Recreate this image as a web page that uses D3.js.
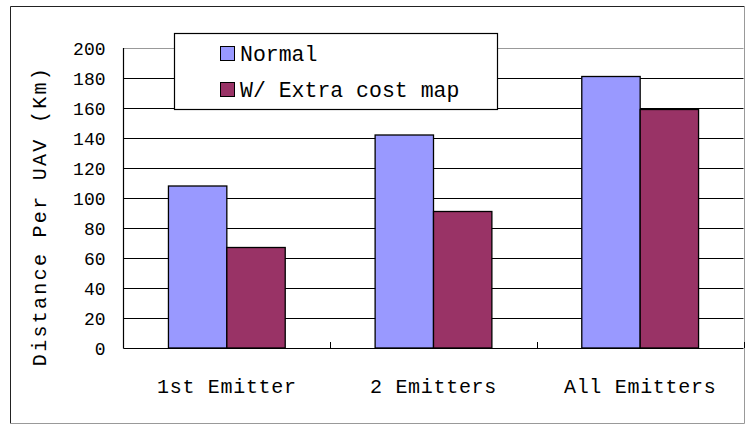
<!DOCTYPE html>
<html>
<head>
<meta charset="utf-8">
<script src="https://cdn.jsdelivr.net/npm/d3@7"></script>
<style>
  html, body { margin: 0; padding: 0; background: #ffffff; }
  svg { display: block; }
  text { font-family: "Liberation Mono", "DejaVu Sans Mono", monospace; fill: #000; }
</style>
</head>
<body>
<svg id="chart" width="745" height="424"></svg>
<script>
// Chart data
const categories = ["1st Emitter", "2 Emitters", "All Emitters"];
const seriesNames = ["Normal", "W/ Extra cost map"];
const normalValues = [108, 142, 181];
const extraCostValues = [67, 91, 159];
const yTicks = [0, 20, 40, 60, 80, 100, 120, 140, 160, 180, 200];
const yTitle = "Distance Per UAV (Km)";
const seriesColors = ["#9999FF", "#993366"];

const svg = d3.select("#chart");
const W = 745, H = 424;

// Outer frame
svg.append("rect").attr("x", 0).attr("y", 0).attr("width", W).attr("height", H).attr("fill", "#fff");
svg.append("line").attr("x1", 10.5).attr("x2", 10.5).attr("y1", 6.5).attr("y2", 423.5).attr("stroke", "#222");
svg.append("line").attr("x1", 10.5).attr("x2", 744.5).attr("y1", 6.5).attr("y2", 6.5).attr("stroke", "#222");
svg.append("line").attr("x1", 744.5).attr("x2", 744.5).attr("y1", 6.5).attr("y2", 423.5).attr("stroke", "#999");
svg.append("line").attr("x1", 10.5).attr("x2", 744.5).attr("y1", 423.5).attr("y2", 423.5).attr("stroke", "#999");

// Plot area
const plot = { left: 123.5, right: 743.5, top: 48, bottom: 348 };

const x = d3.scaleBand()
  .domain(categories)
  .range([plot.left, plot.right])
  .paddingInner(0.435)
  .paddingOuter(0.2175);

const xSub = d3.scaleBand()
  .domain(seriesNames)
  .range([0, x.bandwidth()])
  .padding(0);

const y = d3.scaleLinear().domain([0, 200]).range([plot.bottom, plot.top]);

// Horizontal gridlines
svg.append("g")
  .selectAll("line")
  .data(yTicks.filter(t => t > 0))
  .join("line")
  .attr("x1", plot.left)
  .attr("x2", plot.right)
  .attr("y1", d => Math.round(y(d)) + 0.5)
  .attr("y2", d => Math.round(y(d)) + 0.5)
  .attr("stroke", d => d === 200 ? "#999" : "#000")
  .attr("stroke-width", 1);

// Y axis with labels only (no outward ticks)
const yAxis = d3.axisLeft(y).tickValues(yTicks).tickSize(0).tickPadding(18);
const gy = svg.append("g").attr("transform", `translate(${plot.left},0)`).call(yAxis);
gy.select(".domain").remove();
gy.selectAll("text")
  .attr("font-family", "Liberation Mono, DejaVu Sans Mono, monospace")
  .attr("font-size", 18)
  .attr("dy", "0.36em")
  .attr("fill", "#000");

// Bars
const rows = categories.map((c, i) => ({ cat: c, vals: [normalValues[i], extraCostValues[i]] }));
const groups = svg.append("g")
  .selectAll("g")
  .data(rows)
  .join("g")
  .attr("transform", d => `translate(${x(d.cat)},0)`);

groups.selectAll("rect")
  .data(d => d.vals.map((v, j) => ({ name: seriesNames[j], value: v, color: seriesColors[j] })))
  .join("rect")
  .attr("x", d => xSub(d.name))
  .attr("y", d => y(d.value))
  .attr("width", xSub.bandwidth())
  .attr("height", d => y(0) - y(d.value))
  .attr("fill", d => d.color)
  .attr("stroke", "#000")
  .attr("stroke-width", 1.3);

// Y axis line
svg.append("line")
  .attr("x1", plot.left).attr("x2", plot.left)
  .attr("y1", plot.top).attr("y2", plot.bottom + 0.5)
  .attr("stroke", "#000").attr("stroke-width", 1.2);

// X axis: baseline, inward tick marks at category boundaries, labels
const xAxis = d3.axisBottom(x).tickSize(0).tickPadding(0);
const gx = svg.append("g").attr("transform", `translate(0,${plot.bottom + 0.5})`).call(xAxis);
gx.select(".domain").attr("d", `M${plot.left},0H${plot.right}`).attr("stroke", "#000").attr("stroke-width", 1.2);
gx.selectAll(".tick line").remove();
gx.selectAll("text")
  .attr("font-family", "Liberation Mono, DejaVu Sans Mono, monospace")
  .attr("font-size", 20)
  .attr("letter-spacing", "0.7px")
  .attr("dy", 0)
  .attr("y", 44)
  .attr("fill", "#000");

const boundaries = categories.slice(1).map(c => x(c) - x.step() * x.paddingInner() / 2);
boundaries.push(plot.right);
svg.append("g")
  .selectAll("line")
  .data(boundaries)
  .join("line")
  .attr("x1", d => Math.round(d) + 0.5)
  .attr("x2", d => Math.round(d) + 0.5)
  .attr("y1", plot.bottom - 6)
  .attr("y2", plot.bottom)
  .attr("stroke", "#000");

// Y axis title
svg.append("text")
  .attr("transform", `translate(46,216) rotate(-90)`)
  .attr("text-anchor", "middle")
  .attr("font-size", 20)
  .attr("letter-spacing", "2.3px")
  .text(yTitle);

// Legend
const legend = svg.append("g");
legend.append("rect")
  .attr("x", 174.5).attr("y", 33.5)
  .attr("width", 323).attr("height", 76)
  .attr("fill", "#fff").attr("stroke", "#000").attr("stroke-width", 1.2);

const legendRows = [54, 90];
seriesNames.forEach((name, i) => {
  legend.append("rect")
    .attr("x", 220.5).attr("y", legendRows[i] - 7.5)
    .attr("width", 14).attr("height", 14)
    .attr("fill", seriesColors[i]).attr("stroke", "#000").attr("stroke-width", 1);
  legend.append("text")
    .attr("x", 240).attr("y", legendRows[i] + 7)
    .attr("font-size", 21.5)
    .text(name);
});
</script>
</body>
</html>
